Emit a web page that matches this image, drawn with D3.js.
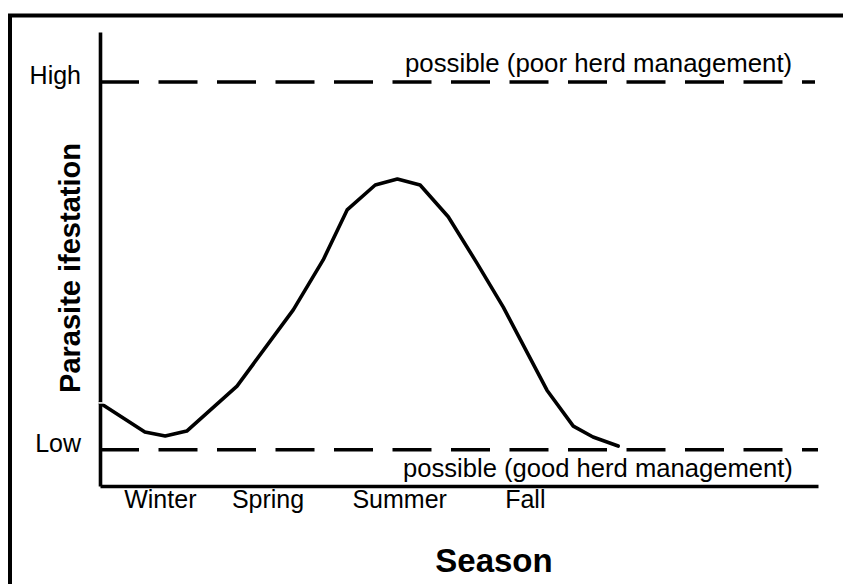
<!DOCTYPE html>
<html>
<head>
<meta charset="utf-8">
<script src="https://cdn.jsdelivr.net/npm/d3@7/dist/d3.min.js"></script>
<style>
  html, body { margin: 0; padding: 0; background: #fff; }
  svg { display: block; }
  text { font-family: "Liberation Sans", Arial, Helvetica, sans-serif; fill: #000; }
</style>
</head>
<body>
<svg id="chart" width="843" height="584"></svg>
<script>
// ---- data ----
const seasons = ["Winter", "Spring", "Summer", "Fall"];
const seasonPositions = [1.0, 2.8, 5.0, 7.1];          // month-like position along x
const levelLabels = ["Low", "High"];
const levelValues = [0.8, 8.9];
const curveX = [0, 0.75, 1.09, 1.45, 2.29, 3.23, 3.73, 4.13, 4.60, 4.97, 5.35, 5.82, 6.30, 6.74, 7.47, 7.91, 8.24, 8.66];
const curveY = [1.83, 1.19, 1.10, 1.21, 2.20, 3.88, 4.98, 6.08, 6.63, 6.76, 6.63, 5.93, 4.91, 3.94, 2.11, 1.32, 1.08, 0.88];
const refLabels = ["possible (good herd management)", "possible (poor herd management)"];
const xTitle = "Season";
const yTitle = "Parasite ifestation";

// ---- chart ----
const svg = d3.select("#chart");
const x = d3.scaleLinear().domain([0, 12]).range([100, 818]);
const y = d3.scaleLinear().domain([0, 10]).range([486, 32]);

// frame (left + top visible)
svg.append("path")
  .attr("d", "M10,590V15.5H850")
  .attr("fill", "none").attr("stroke", "#000").attr("stroke-width", 4);

// dashed reference lines
const dashEnds = [818, 815];
levelValues.forEach((v, i) => {
  svg.append("line")
    .attr("x1", x(0)).attr("x2", dashEnds[i])
    .attr("y1", y(v)).attr("y2", y(v))
    .attr("stroke", "#000").attr("stroke-width", 3.6)
    .attr("stroke-dasharray", "39,19.5");
});

// x axis
const xAxis = d3.axisBottom(x)
  .tickValues(seasonPositions)
  .tickFormat((d, i) => seasons[i])
  .tickSize(0).tickSizeOuter(0).tickPadding(22);
const gx = svg.append("g").attr("transform", `translate(0,${y(0)})`).call(xAxis);
gx.select(".domain").attr("stroke", "#000").attr("stroke-width", 3.6);
gx.selectAll("text").attr("font-size", 25).attr("dy", "0").attr("font-family", null);

// y axis
const yAxis = d3.axisLeft(y)
  .tickValues(levelValues)
  .tickFormat((d, i) => levelLabels[i])
  .tickSize(0).tickSizeOuter(0).tickPadding(19);
const gy = svg.append("g").attr("transform", `translate(${x(0)},0)`).call(yAxis);
gy.select(".domain").attr("stroke", "#000").attr("stroke-width", 3.6);
gy.selectAll("text").attr("font-size", 25).attr("dy", "0.08em").attr("font-family", null);

// curve
const pts = curveX.map((d, i) => [d, curveY[i]]);
svg.append("path")
  .datum(pts)
  .attr("fill", "none").attr("stroke", "#000").attr("stroke-width", 3.6)
  .attr("stroke-linejoin", "round").attr("stroke-linecap", "round")
  .attr("d", d3.line().x(d => x(d[0])).y(d => y(d[1])));

// small white tick where curve meets the axis
svg.append("line")
  .attr("x1", x(0) - 5).attr("x2", x(0) + 9)
  .attr("y1", y(curveY[0])).attr("y2", y(curveY[0]))
  .attr("stroke", "#fff").attr("stroke-width", 1.5);

// reference labels
svg.append("text").attr("x", 405).attr("y", y(levelValues[1]) - 10)
  .attr("font-size", 25.8).text(refLabels[1]);
svg.append("text").attr("x", 403).attr("y", y(levelValues[0]) + 27)
  .attr("font-size", 25.6).text(refLabels[0]);

// titles
svg.append("text").attr("x", 494).attr("y", 572)
  .attr("text-anchor", "middle").attr("font-size", 33).attr("font-weight", "bold")
  .text(xTitle);
svg.append("text")
  .attr("transform", "translate(80,268) rotate(-90)")
  .attr("text-anchor", "middle").attr("font-size", 29).attr("font-weight", "bold")
  .text(yTitle);
</script>
</body>
</html>
